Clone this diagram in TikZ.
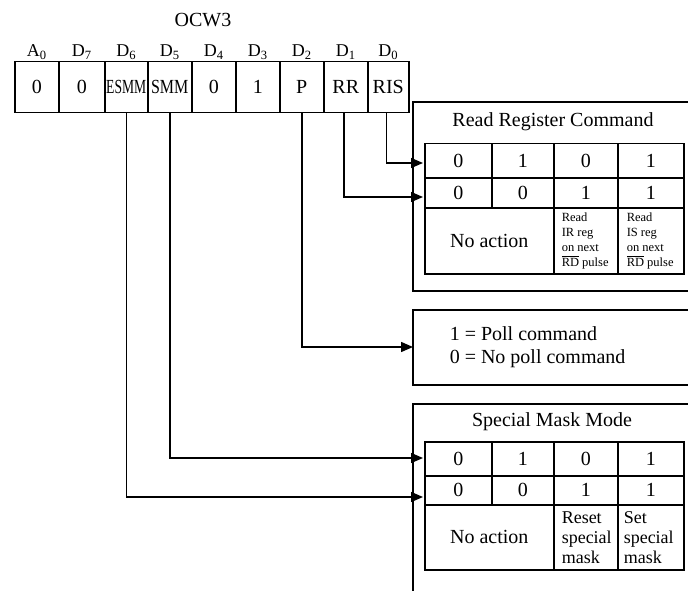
\documentclass[tikz,border=0pt]{standalone}
\usepackage{fontspec}
\setmainfont{Liberation Serif}
\usetikzlibrary{arrows.meta}
\newcommand\fsz[2]{\fontsize{#1}{#2}\selectfont}
\begin{document}
\begin{tikzpicture}[x=1pt,y=-1pt,line width=1.5pt,
  reg/.style={draw,inner sep=0pt,anchor=north west,minimum height=51pt,font=\fsz{20}{24}},
  lbl/.style={anchor=base,inner sep=0pt,font=\fsz{18}{22}},
  tc/.style={draw,inner sep=0pt,anchor=north west,font=\fsz{20}{24}},
  ttl/.style={inner sep=0pt,font=\fsz{20}{24}},
  tiny/.style={anchor=west,align=left,inner sep=0pt,font=\fsz{12.5}{15}},
  smalltxt/.style={anchor=west,align=left,inner sep=0pt,font=\fsz{18}{20}},
  arr/.style={-{Triangle[length=12pt,width=10pt]}},
  box/.style={line width=1.6pt}]
\useasboundingbox (0,0) rectangle (688,591);
% title
\node[ttl] (ocw) at (203,20) {OCW3};
% register cells
\node[reg,minimum width=44pt] (ra0) at (14,61) {0};
\node[reg,minimum width=46pt] (rd7) at (58,61) {0};
\node[reg,minimum width=43pt] (rd6) at (104,61) {\scalebox{0.68}[1]{ESMM}};
\node[reg,minimum width=44pt] (rd5) at (147,61) {\scalebox{0.8}[1]{SMM}};
\node[reg,minimum width=44pt] (rd4) at (191,61) {0};
\node[reg,minimum width=44pt] (rd3) at (235,61) {1};
\node[reg,minimum width=44pt] (rd2) at (279,61) {P};
\node[reg,minimum width=44pt] (rd1) at (323,61) {RR};
\node[reg,minimum width=41pt] (rd0) at (367,61) {RIS};
% bit labels
\node[lbl] (la0) at (ra0.north |- 0,57) {A\textsubscript{0}};
\node[lbl] (ld7) at (rd7.north |- 0,57) {D\textsubscript{7}};
\node[lbl] (ld6) at (rd6.north |- 0,57) {D\textsubscript{6}};
\node[lbl] (ld5) at (rd5.north |- 0,57) {D\textsubscript{5}};
\node[lbl] (ld4) at (rd4.north |- 0,57) {D\textsubscript{4}};
\node[lbl] (ld3) at (rd3.north |- 0,57) {D\textsubscript{3}};
\node[lbl] (ld2) at (rd2.north |- 0,57) {D\textsubscript{2}};
\node[lbl] (ld1) at (rd1.north |- 0,57) {D\textsubscript{1}};
\node[lbl] (ld0) at (rd0.north |- 0,57) {D\textsubscript{0}};
% Read Register Command box
\draw[box] (688,102) -- (413,102) -- (413,291) -- (688,291);
\node[ttl] (rrct) at (553,122) {Read Register Command};
\node[tc,minimum width=67pt,minimum height=34pt] (r11) at (424,143) {0};
\node[tc,minimum width=62pt,minimum height=34pt] (r12) at (491,143) {1};
\node[tc,minimum width=64pt,minimum height=34pt] (r13) at (553,143) {0};
\node[tc,minimum width=66pt,minimum height=34pt] (r14) at (617,143) {1};
\node[tc,minimum width=67pt,minimum height=30pt] (r21) at (424,177) {0};
\node[tc,minimum width=62pt,minimum height=30pt] (r22) at (491,177) {0};
\node[tc,minimum width=64pt,minimum height=30pt] (r23) at (553,177) {1};
\node[tc,minimum width=66pt,minimum height=30pt] (r24) at (617,177) {1};
\node[tc,minimum width=129pt,minimum height=66pt] (r31) at (424,207) {No action};
\node[tc,minimum width=64pt,minimum height=66pt] (r33) at (553,207) {};
\node[tc,minimum width=66pt,minimum height=66pt] (r34) at (617,207) {};
\node[tiny] (r33t) at ([xshift=8pt]r33.west) {Read\\IR reg\\on next\\$\overline{\mbox{RD}}$ pulse};
\node[tiny] (r34t) at ([xshift=9pt]r34.west) {Read\\IS reg\\on next\\$\overline{\mbox{RD}}$ pulse};
% Poll box
\draw[box] (688,310) -- (413,310) -- (413,385) -- (688,385);
\node[anchor=west,align=left,inner sep=0pt,font=\fsz{20}{23}] (poll) at (449,347) {1 = Poll command\\0 = No poll command};
% Special Mask Mode box
\draw[box] (688,404) -- (413,404) -- (413,591);
\node[ttl] (smmt) at (552,422) {Special Mask Mode};
\node[tc,minimum width=67pt,minimum height=34pt] (s11) at (424,441) {0};
\node[tc,minimum width=62pt,minimum height=34pt] (s12) at (491,441) {1};
\node[tc,minimum width=64pt,minimum height=34pt] (s13) at (553,441) {0};
\node[tc,minimum width=66pt,minimum height=34pt] (s14) at (617,441) {1};
\node[tc,minimum width=67pt,minimum height=29pt] (s21) at (424,475) {0};
\node[tc,minimum width=62pt,minimum height=29pt] (s22) at (491,475) {0};
\node[tc,minimum width=64pt,minimum height=29pt] (s23) at (553,475) {1};
\node[tc,minimum width=66pt,minimum height=29pt] (s24) at (617,475) {1};
\node[tc,minimum width=129pt,minimum height=65pt] (s31) at (424,504) {No action};
\node[tc,minimum width=64pt,minimum height=65pt] (s33) at (553,504) {};
\node[tc,minimum width=66pt,minimum height=65pt] (s34) at (617,504) {};
\node[smalltxt] (s33t) at ([xshift=8pt]s33.west) {Reset\\special\\mask};
\node[smalltxt] (s34t) at ([xshift=6pt]s34.west) {Set\\special\\mask};
% arrow end points
\coordinate (e1) at (423,163);
\coordinate (e2) at (423,197);
\coordinate (e3) at (413,347);
\coordinate (e4) at (423,458);
\coordinate (e5) at (423,497);
% connectors
\draw[arr] ([xshift=-2pt]rd0.south) |- (e1);
\draw[arr] ([xshift=-2pt]rd1.south) |- (e2);
\draw[arr] (rd2.south) |- (e3);
\draw[arr] (rd5.south) |- (e4);
\draw[arr] (rd6.south) |- (e5);
\end{tikzpicture}
\end{document}
